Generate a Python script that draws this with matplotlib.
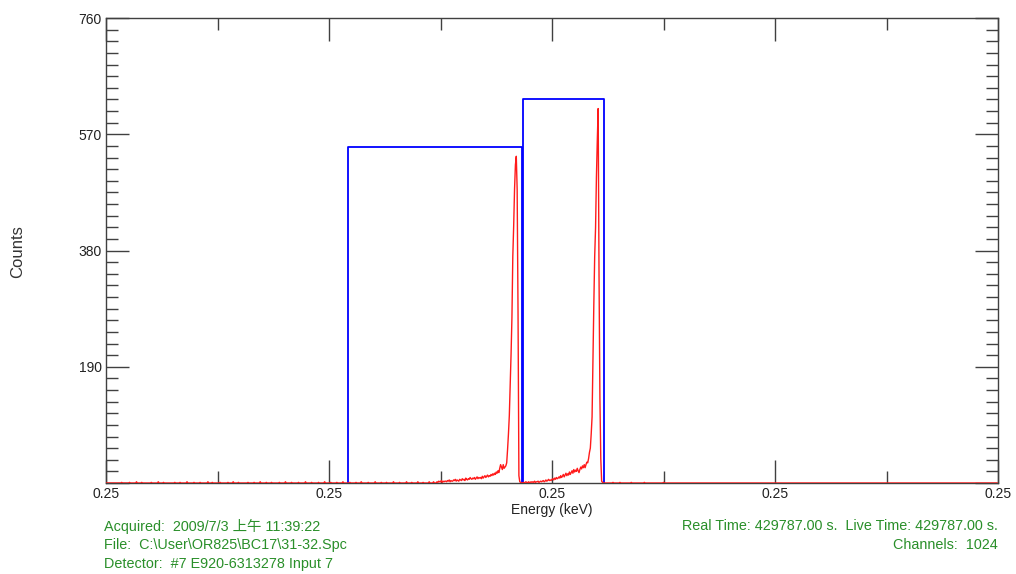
import matplotlib
matplotlib.use("Agg")
import matplotlib.pyplot as plt
import numpy as np
from matplotlib.ticker import FixedLocator, FixedFormatter, MultipleLocator

# spectrum, 1024 channels; only the non-empty parts are listed
N_CHANNELS = 1024

# low noise counts scattered along the baseline
noise_ch = [18, 27, 35, 41, 52, 60, 66, 79, 85, 93, 101, 108, 117, 122, 131, 140,
            146, 152, 163, 170, 177, 184, 190, 199, 206, 213, 221, 229, 236, 244,
            251, 258, 265, 272, 280, 287, 293, 301, 309, 316, 322, 330, 337, 345,
            351, 358, 364, 371, 376, 582, 590, 603, 618, 640]
noise_val = [1, 1, 2, 1, 1, 2, 1, 1, 1, 2, 1, 1, 2, 1, 1, 1,
             2, 1, 1, 1, 2, 1, 1, 1, 2, 1, 1, 2, 1, 1,
             2, 1, 1, 2, 1, 1, 2, 1, 2, 1, 1, 2, 1, 2,
             1, 2, 1, 2, 2, 1, 1, 1, 1, 1]

# first peak, channels 380..477
peak1_start = 380
peak1_counts = [
    2, 1, 3, 2, 2, 4, 1, 3, 2, 3,
    3, 2, 4, 3, 5, 2, 4, 3, 3, 5,
    4, 6, 3, 5, 4, 3, 6, 5, 4, 7,
    5, 6, 4, 8, 6, 5, 7, 6, 9, 7,
    6, 8, 7, 9, 6, 8, 10, 7, 9, 8,
    9, 7, 11, 8, 10, 12, 9, 11, 13, 10,
    12, 11, 14, 12, 15, 13, 16, 14, 18, 16,
    20, 17, 24, 30, 26,
    22, 30, 24, 26, 28, 33, 55, 80, 110, 160, 210, 270, 370, 420, 480, 520,
    534, 480, 280, 12, 2, 1, 0,
]

# second peak, channels 478..572
peak2_start = 478
peak2_counts = [
    0, 1, 0, 1, 2, 1, 0, 2, 1, 1, 2, 1,
    2, 1, 3, 1, 2, 2, 3, 1, 2, 3,
    2, 3, 4, 2, 3, 5, 3, 4, 6, 4,
    5, 4, 6, 7, 5, 8, 6, 9, 7, 8,
    10, 8, 12, 9, 11, 14, 10, 13, 16, 12,
    15, 13, 18, 14, 17, 20, 16, 22, 18, 21,
    19, 24, 20, 17, 22, 26, 23, 28, 25, 30,
    25, 30, 34, 33, 40, 50, 57, 80, 108, 200, 291, 370, 417, 500, 560,
    612, 337, 139, 40, 3, 1, 0, 0,
]

# regions of interest (start channel, end channel, height)
roi_start = [278, 479]
roi_end = [477, 572]
roi_height = [549, 627]

x_ticks = [0, 256, 512, 768, 1024]
x_tick_labels = ["0.25", "0.25", "0.25", "0.25", "0.25"]
y_ticks = [0, 190, 380, 570, 760]
y_tick_labels = ["", "190", "380", "570", "760"]

info_left = [
    "Acquired:  2009/7/3 上午 11:39:22",
    "File:  C:\\User\\OR825\\BC17\\31-32.Spc",
    "Detector:  #7 E920-6313278 Input 7",
]
info_right = [
    "Real Time: 429787.00 s.  Live Time: 429787.00 s.",
    "Channels:  1024",
]

counts = np.zeros(N_CHANNELS)
counts[noise_ch] = noise_val
counts[peak1_start:peak1_start + len(peak1_counts)] = peak1_counts
counts[peak2_start:peak2_start + len(peak2_counts)] = peak2_counts
channels = np.arange(N_CHANNELS)

FONT = ["Liberation Sans", "Noto Sans CJK SC", "DejaVu Sans"]
plt.rcParams["font.family"] = FONT
GREEN = "#2a8f2a"
AXCOL = "#404040"

fig = plt.figure(figsize=(10.16, 5.74), dpi=100)
ax = fig.add_axes([106 / 1016, 1 - 483 / 574, 892 / 1016, 465 / 574])

# ROI boxes
for x0, x1, h in zip(roi_start, roi_end, roi_height):
    ax.plot([x0, x0, x1, x1], [0, h, h, 0], color="#0000ff", lw=1.3, zorder=2)

ax.plot(channels, counts, color="#ff1a1a", lw=1.0, zorder=3)

ax.set_xlim(0, N_CHANNELS)
ax.set_ylim(0, 760)

ax.xaxis.set_major_locator(FixedLocator(x_ticks))
ax.xaxis.set_major_formatter(FixedFormatter(x_tick_labels))
ax.xaxis.set_minor_locator(MultipleLocator(128))
ax.yaxis.set_major_locator(FixedLocator(y_ticks))
ax.yaxis.set_major_formatter(FixedFormatter(y_tick_labels))
ax.yaxis.set_minor_locator(MultipleLocator(19))

ax.tick_params(which="both", direction="in", top=True, right=True,
               color=AXCOL, labelcolor="#222222", labelsize=10, width=1)
ax.tick_params(which="major", length=16.5, pad=3)
ax.tick_params(which="minor", length=8.5)
for s in ax.spines.values():
    s.set_color(AXCOL)
    s.set_linewidth(1)

ax.set_xlabel("Energy (keV)", fontsize=10, color="#222222", labelpad=1)
fig.text(18 / 1016, 1 - 252 / 574, "Counts", rotation=90, fontsize=12,
         color="#333333", ha="center", va="center")

for i, line in enumerate(info_left):
    fig.text(104 / 1016, 1 - (526 + 19 * i) / 574, line, color=GREEN,
             fontsize=10.4, ha="left", va="center")
for i, line in enumerate(info_right):
    fig.text(998 / 1016, 1 - (526 + 19 * i) / 574, line, color=GREEN,
             fontsize=10.4, ha="right", va="center")

fig.savefig("out.png", dpi=100)
